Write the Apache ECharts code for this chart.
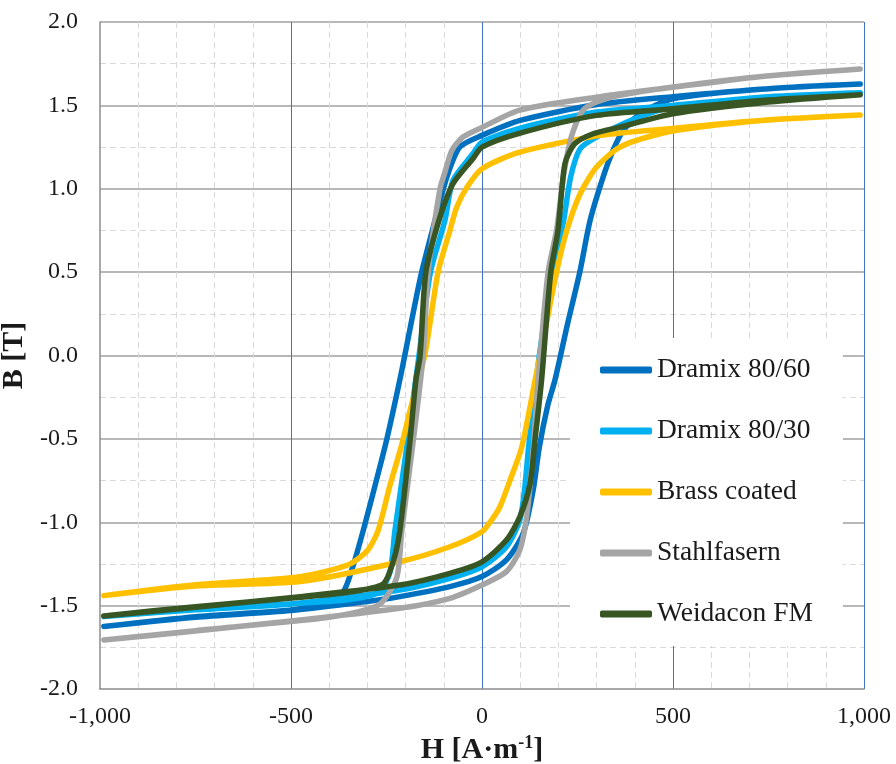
<!DOCTYPE html>
<html><head><meta charset="utf-8">
<script src="https://cdn.jsdelivr.net/npm/echarts@6/dist/echarts.min.js"></script>
<style>html,body{margin:0;padding:0;background:#fff}#c{width:896px;height:764px}</style>
</head><body><div id="c"></div>
<script>
const seriesNames = ['Dramix 80/60', 'Dramix 80/30', 'Brass coated', 'Stahlfasern', 'Weidacon FM'];
const seriesColors = ['#0070C0', '#00B0F0', '#FFC000', '#A5A5A5', '#375623'];

const xTickValues = [-1000, -500, 0, 500, 1000];
const xTickLabels = ['-1,000', '-500', '0', '500', '1,000'];
const yTickValues = [-2, -1.5, -1, -0.5, 0, 0.5, 1, 1.5, 2];
const yTickLabels = ['-2.0', '-1.5', '-1.0', '-0.5', '0.0', '0.5', '1.0', '1.5', '2.0'];

// Dramix 80/60 : descending branch (H from +max to -max) and ascending branch
const dramix8060Down = [[990,1.628],[750,1.60],[500,1.552],[300,1.505],[100,1.41],[0,1.32],[-58,1.25],[-92,1.07],[-123,0.81],[-158,0.50],[-185,0.20],[-210,-0.09],[-249,-0.50],[-280,-0.78],[-311,-1.05],[-340,-1.28],[-364,-1.42],[-410,-1.48],[-500,-1.526],[-750,-1.566],[-990,-1.625]];
const dramix8060Up = [[-990,-1.625],[-750,-1.57],[-500,-1.53],[-300,-1.475],[-215,-1.446],[-84,-1.386],[0,-1.326],[64,-1.226],[108,-1.066],[134,-0.807],[150,-0.55],[172,-0.30],[191,-0.147],[225,0.20],[256,0.50],[283,0.81],[317,1.07],[343,1.23],[370,1.35],[414,1.45],[500,1.54],[750,1.60],[990,1.628]];

// Dramix 80/30
const dramix8030Down = [[990,1.576],[750,1.552],[500,1.50],[300,1.46],[100,1.364],[0,1.28],[-24,1.21],[-76,1.05],[-97,0.81],[-135,0.50],[-165,0.0],[-197,-0.55],[-228,-1.05],[-241,-1.30],[-270,-1.42],[-350,-1.465],[-476,-1.485],[-750,-1.52],[-990,-1.566]];
const dramix8030Up = [[-990,-1.566],[-750,-1.525],[-500,-1.49],[-215,-1.406],[-84,-1.336],[0,-1.267],[64,-1.147],[99,-0.987],[112,-0.79],[122,-0.55],[150,0.0],[185,0.50],[213,0.80],[232,1.07],[257,1.24],[300,1.31],[400,1.42],[500,1.49],[750,1.55],[990,1.576]];

// Brass coated
const brassDown = [[990,1.442],[745,1.412],[500,1.362],[309,1.32],[99,1.22],[0,1.12],[-39,1.01],[-66,0.89],[-84,0.75],[-115,0.50],[-150,0.0],[-185,-0.30],[-212,-0.55],[-241,-0.78],[-272,-1.05],[-300,-1.17],[-350,-1.255],[-476,-1.326],[-750,-1.375],[-990,-1.44]];
const brassUp = [[-990,-1.44],[-750,-1.382],[-476,-1.356],[-215,-1.237],[-84,-1.147],[0,-1.057],[25,-0.987],[47,-0.907],[73,-0.75],[104,-0.55],[139,-0.147],[165,0.15],[195,0.50],[222,0.75],[257,0.97],[300,1.13],[361,1.25],[466,1.33],[571,1.37],[750,1.412],[990,1.442]];

// Stahlfasern
const stahlDown = [[990,1.718],[745,1.676],[500,1.608],[309,1.552],[99,1.472],[0,1.368],[-50,1.31],[-79,1.23],[-97,1.10],[-110,1.0],[-141,0.50],[-154,0.0],[-183,-0.567],[-210,-1.05],[-223,-1.33],[-267,-1.49],[-350,-1.55],[-476,-1.59],[-750,-1.65],[-990,-1.706]];
const stahlUp = [[-990,-1.706],[-750,-1.652],[-476,-1.586],[-215,-1.516],[-84,-1.456],[0,-1.376],[64,-1.296],[99,-1.166],[117,-0.967],[134,-0.567],[147,-0.147],[173,0.50],[195,0.75],[215,1.10],[235,1.32],[264,1.47],[300,1.52],[361,1.56],[500,1.61],[745,1.676],[990,1.718]];

// Weidacon FM
const weidaconDown = [[990,1.564],[750,1.532],[500,1.48],[300,1.44],[100,1.334],[0,1.25],[-24,1.18],[-76,1.03],[-110,0.83],[-147,0.50],[-162,0.0],[-173,-0.147],[-188,-0.50],[-215,-1.05],[-233,-1.24],[-259,-1.37],[-350,-1.42],[-476,-1.45],[-750,-1.506],[-990,-1.562]];
const weidaconUp = [[-990,-1.562],[-750,-1.51],[-476,-1.446],[-215,-1.376],[-84,-1.306],[0,-1.237],[64,-1.107],[99,-0.967],[126,-0.767],[139,-0.50],[156,-0.147],[180,0.50],[199,0.75],[217,1.15],[243,1.27],[291,1.33],[361,1.37],[500,1.45],[750,1.52],[990,1.564]];

const loops = [
  dramix8060Down.concat(dramix8060Up),
  dramix8030Down.concat(dramix8030Up),
  brassDown.concat(brassUp),
  stahlDown.concat(stahlUp),
  weidaconDown.concat(weidaconUp)
];

const FONT = 'Liberation Serif';
const chart = echarts.init(document.getElementById('c'), null, {renderer: 'canvas'});
chart.setOption({
  animation: false,
  backgroundColor: '#fff',
  textStyle: {fontFamily: FONT},
  grid: {left: 100, right: 32, top: 22, bottom: 75, containLabel: false, outerBoundsMode: 'none'},
  xAxis: {
    type: 'value', min: -1000, max: 1000, interval: 500,
    name: '{a|H [A·m}{s|-1}{a|]}', nameLocation: 'middle', nameGap: 40,
    nameTextStyle: {rich: {
      a: {fontFamily: FONT, fontSize: 30, fontWeight: 'bold', color: '#1a1a1a'},
      s: {fontFamily: FONT, fontSize: 18, fontWeight: 'bold', color: '#1a1a1a', padding: [0, 0, 14, 0]}
    }},
    axisLine: {show: true, onZero: false, lineStyle: {color: '#8c8c8c', width: 1.5}},
    axisTick: {show: false},
    axisLabel: {fontFamily: FONT, fontSize: 24, color: '#1a1a1a', margin: 16,
      formatter: v => { const i = xTickValues.indexOf(v); return i >= 0 ? xTickLabels[i] : ''; }},
    splitLine: {show: true, showMinLine: false, lineStyle: {color: '#4472C4', width: 1}},
    minorTick: {show: false, splitNumber: 5},
    minorSplitLine: {show: true, lineStyle: {color: '#d9d9d9', width: 1, type: [6, 4]}}
  },
  yAxis: {
    type: 'value', min: -2, max: 2, interval: 0.5,
    name: 'B [T]', nameLocation: 'middle', nameGap: 56, nameRotate: 90,
    nameTextStyle: {fontFamily: FONT, fontSize: 30, fontWeight: 'bold', color: '#1a1a1a'},
    axisLine: {show: true, onZero: false, lineStyle: {color: '#8c8c8c', width: 1.5}},
    axisTick: {show: false},
    axisLabel: {fontFamily: FONT, fontSize: 24, color: '#1a1a1a', margin: 22,
      formatter: v => { const i = yTickValues.findIndex(t => Math.abs(t - v) < 1e-9); return i >= 0 ? yTickLabels[i] : ''; }},
    splitLine: {show: true, showMinLine: false, lineStyle: {color: '#a0a0a0', width: 1.5}},
    minorTick: {show: false, splitNumber: 2},
    minorSplitLine: {show: true, lineStyle: {color: '#d9d9d9', width: 1, type: [6, 4]}}
  },
  legend: {
    orient: 'vertical', left: 570, top: 338,
    padding: [18, 30, 18, 30], backgroundColor: '#fff',
    itemWidth: 52, itemHeight: 7, itemGap: 33, icon: 'roundRect',
    textStyle: {fontFamily: FONT, fontSize: 27.5, color: '#1a1a1a', lineHeight: 24},
    data: seriesNames
  },
  series: seriesNames.map((n, i) => ({
    name: n, type: 'line', data: loops[i], showSymbol: false, symbol: 'none',
    smooth: 0.25, color: seriesColors[i],
    lineStyle: {width: 5.5, color: seriesColors[i], cap: 'round', join: 'round'}
  }))
});
</script></body></html>
